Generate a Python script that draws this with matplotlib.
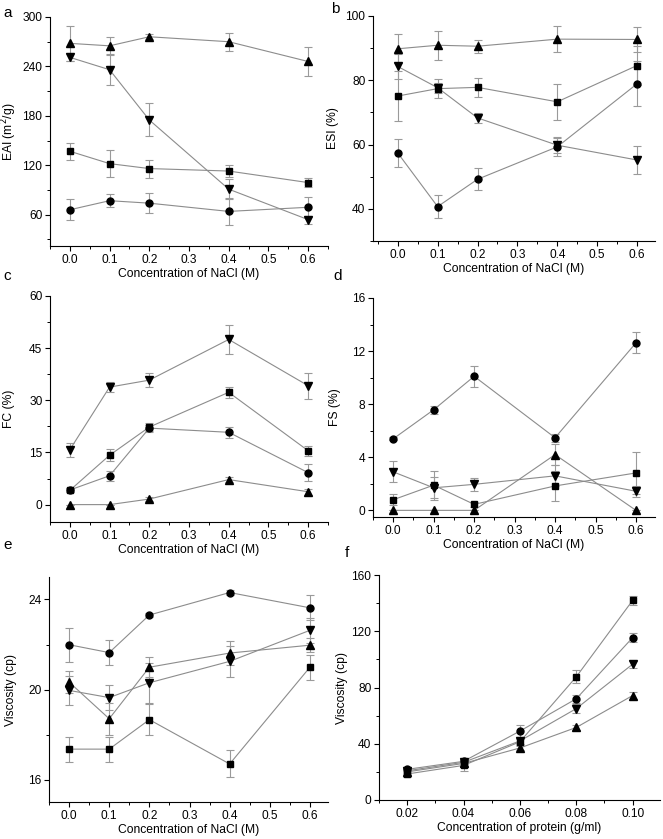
import matplotlib
matplotlib.use("Agg")
import matplotlib.pyplot as plt
from matplotlib.ticker import MultipleLocator, AutoMinorLocator

plt.rcParams['font.family'] = ['Liberation Sans', 'DejaVu Sans']

nacl = [0.0, 0.1, 0.2, 0.4, 0.6]
protein = [0.02, 0.04, 0.06, 0.08, 0.10]

# Panel a: EAI
eai_sq = [137, 122, 116, 113, 99]
eai_sq_err = [10, 16, 11, 7, 5]
eai_ci = [66, 77, 74, 64, 69]
eai_ci_err = [13, 8, 12, 16, 12]
eai_up = [268, 265, 276, 270, 246]
eai_up_err = [21, 11, 3, 11, 18]
eai_dn = [251, 236, 175, 91, 54]
eai_dn_err = [5, 19, 20, 12, 5]

# Panel b: ESI
esi_sq = [75.1, 77.4, 77.8, 73.3, 84.6]
esi_sq_err = [7.7, 3, 3, 5.5, 6]
esi_ci = [57.4, 40.7, 49.2, 59.3, 78.9]
esi_ci_err = [4.4, 3.6, 3.4, 2.8, 7]
esi_up = [89.8, 90.9, 90.6, 92.8, 92.7]
esi_up_err = [4.5, 4.5, 2, 4, 4]
esi_dn = [84.3, 77.7, 68.3, 59.8, 55.2]
esi_dn_err = [4, 1.5, 1.5, 2.5, 4.3]

# Panel c: FC
fc_sq = [4.1, 14.2, 22.3, 32.3, 15.5]
fc_sq_err = [0.6, 1.7, 1.2, 1.5, 1.4]
fc_ci = [4.2, 8.3, 22.0, 20.8, 9.2]
fc_ci_err = [0.5, 1.5, 1.0, 1.6, 2.5]
fc_up = [0, 0, 1.6, 7.2, 3.7]
fc_up_err = [0, 0, 0.7, 0.8, 0.8]
fc_dn = [15.8, 33.8, 35.8, 47.5, 34.2]
fc_dn_err = [2.0, 1.5, 2.0, 4.3, 3.7]

# Panel d: FS
fs_sq = [0.8, 1.9, 0.45, 1.84, 2.82]
fs_sq_err = [0.4, 1.1, 0.2, 1.1, 1.6]
fs_ci = [5.39, 7.58, 10.1, 5.47, 12.62]
fs_ci_err = [0.1, 0.3, 0.8, 0.3, 0.8]
fs_up = [0, 0, 0, 4.2, 0]
fs_up_err = [0, 0, 0, 0.8, 0]
fs_dn = [2.9, 1.7, 1.96, 2.6, 1.44]
fs_dn_err = [0.8, 0.8, 0.5, 0.8, 0.4]

# Panel e: viscosity vs NaCl
ve_sq = [17.35, 17.35, 18.66, 16.69, 20.99]
ve_sq_err = [0.55, 0.55, 0.7, 0.6, 0.55]
ve_ci = [21.99, 21.64, 23.31, 24.31, 23.63]
ve_ci_err = [0.75, 0.55, 0.1, 0.1, 0.55]
ve_up = [20.33, 18.7, 20.99, 21.62, 21.97]
ve_up_err = [0.5, 0.7, 0.45, 0.55, 0.3]
ve_dn = [19.96, 19.64, 20.3, 21.25, 22.63]
ve_dn_err = [0.65, 0.55, 0.9, 0.7, 0.55]

# Panel f: viscosity vs protein
vf_sq = [18.5, 24.6, 41.4, 87.6, 142]
vf_sq_err = [2, 4, 2, 4.5, 3]
vf_ci = [21.8, 27.5, 49, 72, 115.5]
vf_ci_err = [1.5, 2, 4, 3, 3]
vf_up = [20, 26, 37, 51.6, 74.3]
vf_up_err = [1, 1.5, 1.5, 2, 2.5]
vf_dn = [20.8, 26.8, 42, 65, 96.6]
vf_dn_err = [1, 1.5, 2, 3, 2.5]

W, H = 663, 839
fig = plt.figure(figsize=(W / 100, H / 100), dpi=100)

def add_ax(l, r, t, b):
    return fig.add_axes([l / W, 1 - b / H, (r - l) / W, (b - t) / H])

panels = [
    dict(box=(50, 328, 17, 246), x=nacl, series=[(eai_sq, eai_sq_err), (eai_ci, eai_ci_err), (eai_up, eai_up_err), (eai_dn, eai_dn_err)],
         ylim=(22, 300), yt=60, xlim=(-0.05, 0.65), xt=0.1, ylabel='EAI (m$^2$/g)', xlabel='Concentration of NaCl (M)', lab='a', labpos=(3, 13), ylx=19),
    dict(box=(373, 655, 16, 241), x=nacl, series=[(esi_sq, esi_sq_err), (esi_ci, esi_ci_err), (esi_up, esi_up_err), (esi_dn, esi_dn_err)],
         ylim=(30, 100), yt=20, xlim=(-0.062, 0.645), xt=0.1, ylabel='ESI (%)', xlabel='Concentration of NaCl (M)', lab='b', labpos=(331, 9), ylx=339),
    dict(box=(50, 328, 296, 522), x=nacl, series=[(fc_sq, fc_sq_err), (fc_ci, fc_ci_err), (fc_up, fc_up_err), (fc_dn, fc_dn_err)],
         ylim=(-5, 60), yt=15, xlim=(-0.05, 0.65), xt=0.1, ylabel='FC (%)', xlabel='Concentration of NaCl (M)', lab='c', labpos=(3, 276), ylx=15),
    dict(box=(373, 655, 298, 517), x=nacl, series=[(fs_sq, fs_sq_err), (fs_ci, fs_ci_err), (fs_up, fs_up_err), (fs_dn, fs_dn_err)],
         ylim=(-0.5, 16), yt=4, xlim=(-0.05, 0.647), xt=0.1, ylabel='FS (%)', xlabel='Concentration of NaCl (M)', lab='d', labpos=(333, 276), ylx=341),
    dict(box=(49, 328, 577, 802), x=nacl, series=[(ve_sq, ve_sq_err), (ve_ci, ve_ci_err), (ve_up, ve_up_err), (ve_dn, ve_dn_err)],
         ylim=(15, 25), yt=4, xlim=(-0.05, 0.645), xt=0.1, ylabel='Viscosity (cp)', xlabel='Concentration of NaCl (M)', lab='e', labpos=(3, 545), ylx=17),
    dict(box=(379, 660, 575, 800), x=protein, series=[(vf_sq, vf_sq_err), (vf_ci, vf_ci_err), (vf_up, vf_up_err), (vf_dn, vf_dn_err)],
         ylim=(0, 160), yt=40, xlim=(0.01, 0.1097), xt=0.02, ylabel='Viscosity (cp)', xlabel='Concentration of protein (g/ml)', lab='f', labpos=(345, 553), ylx=348),
]

markers = ['s', 'o', '^', 'v']
msizes = [4.6, 5.0, 5.4, 5.4]
fmt_x = {0.1: '{:.1f}', 0.02: '{:.2f}'}

for p in panels:
    ax = add_ax(*p['box'])
    for (vals, errs), m, ms in zip(p['series'], markers, msizes):
        ax.errorbar(p['x'], vals, yerr=errs, fmt='none', ecolor='#9a9a9a', elinewidth=0.8, capsize=2.6, capthick=0.8, zorder=2)
        ax.plot(p['x'], vals, color='#8c8c8c', lw=0.8, zorder=3)
        ax.plot(p['x'], vals, ls='none', marker=m, ms=ms, color='black', zorder=4)
    ax.set_xlim(*p['xlim'])
    ax.set_ylim(*p['ylim'])
    ax.xaxis.set_major_locator(MultipleLocator(p['xt']))
    ax.xaxis.set_minor_locator(AutoMinorLocator(2))
    ax.yaxis.set_major_locator(MultipleLocator(p['yt']))
    ax.yaxis.set_minor_locator(AutoMinorLocator(2))
    f = fmt_x[p['xt']]
    ax.xaxis.set_major_formatter(plt.FuncFormatter(lambda v, pos, f=f: f.format(v)))
    for s in ['top', 'right']:
        ax.spines[s].set_visible(False)
    for s in ['left', 'bottom']:
        ax.spines[s].set_linewidth(0.8)
    ax.tick_params(which='major', direction='out', length=3.5, width=0.8, labelsize=8.6, pad=2)
    ax.tick_params(which='minor', direction='out', length=2, width=0.7)
    ax.set_ylabel(p['ylabel'], fontsize=8.7)
    ax.set_xlabel(p['xlabel'], fontsize=8.7, labelpad=2)
    l, r = p['box'][0], p['box'][1]
    ax.yaxis.set_label_coords((p['ylx'] - l) / (r - l), 0.5)
    fig.text(p['labpos'][0] / W, 1 - p['labpos'][1] / H, p['lab'], fontsize=11, va='center', ha='left')

fig.savefig('out.png', dpi=100)
